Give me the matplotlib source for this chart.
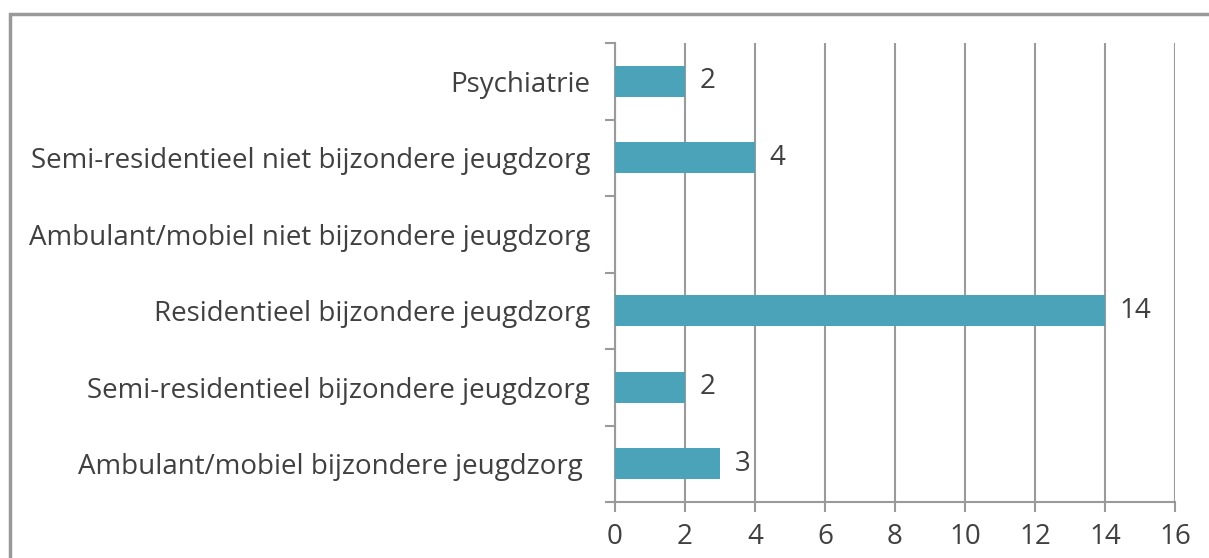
import matplotlib
matplotlib.use("Agg")
import matplotlib.pyplot as plt
from matplotlib.patches import Rectangle
import numpy as np

categories = [
    "Ambulant/mobiel bijzondere jeugdzorg ",
    "Semi-residentieel bijzondere jeugdzorg",
    "Residentieel bijzondere jeugdzorg",
    "Ambulant/mobiel niet bijzondere jeugdzorg",
    "Semi-residentieel niet bijzondere jeugdzorg",
    "Psychiatrie",
]
values = [3, 2, 14, 0, 4, 2]
xticks = [0, 2, 4, 6, 8, 10, 12, 14, 16]

plt.rcParams['font.family'] = ['Open Sans', 'DejaVu Sans']
text_color = '#404040'
grid_color = '#9a9a9a'
bar_color = '#4AA3B8'
fs = 20
fw = 'normal'

fig = plt.figure(figsize=(12.09, 5.58), dpi=100)
ax = fig.add_axes([615/1209, (558-502)/558, (1175-615)/1209, (502-43)/558])

y = np.arange(len(categories))
ax.barh(y, values, height=0.4, color=bar_color, zorder=3)
for yi, v in zip(y, values):
    if v > 0:
        ax.text(v + 0.42, yi, str(v), va='center', ha='left', fontsize=fs,
                fontweight=fw, color=text_color)

ax.set_xlim(0, 16)
ax.set_ylim(-0.5, len(categories) - 0.5)
ax.set_xticks(xticks)
ax.set_xticklabels([str(t) for t in xticks], fontsize=fs, fontweight=fw, color=text_color)
ax.set_yticks(y)
ax.set_yticklabels(categories, fontsize=fs, fontweight=fw, color=text_color)
ax.set_yticks(np.arange(-0.5, len(categories), 1), minor=True)
ax.tick_params(axis='y', which='major', length=0, pad=18)
ax.tick_params(axis='y', which='minor', length=7, width=1.5, color=grid_color, direction='out')
ax.tick_params(axis='x', which='major', length=7, width=1.5, color=grid_color, pad=8)

ax.grid(axis='x', color=grid_color, linewidth=1.5, zorder=0)
for s in ['top', 'right']:
    ax.spines[s].set_visible(False)
for s in ['left', 'bottom']:
    ax.spines[s].set_color(grid_color)
    ax.spines[s].set_linewidth(1.5)

# outer border
fig.patches.append(Rectangle((9.5/1209, -0.01), 1.2, (558-13.5)/558 + 0.01,
                             transform=fig.transFigure, fill=False,
                             edgecolor='#999999', linewidth=2.5))

fig.savefig('out.png', dpi=100)
